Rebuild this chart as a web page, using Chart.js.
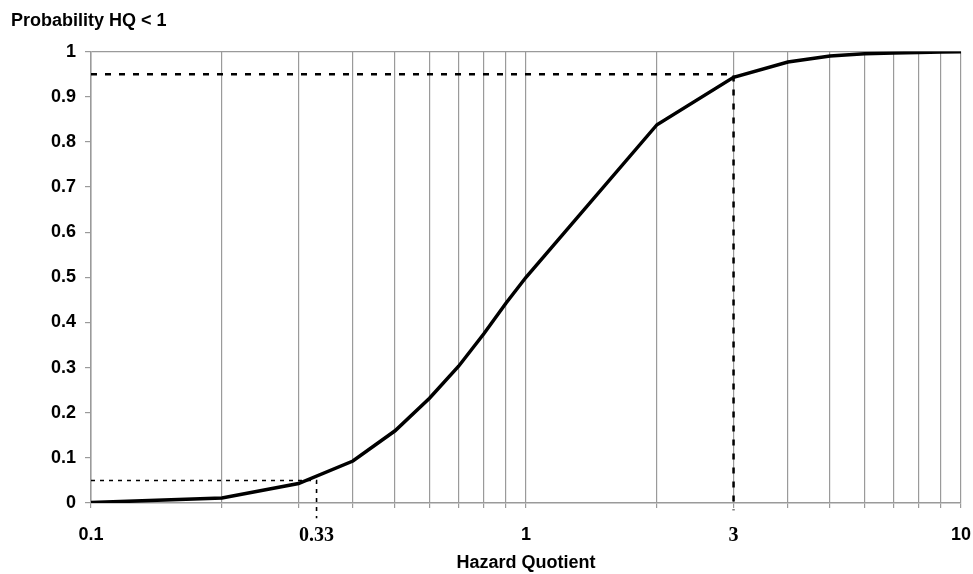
<!DOCTYPE html>
<html>
<head>
<meta charset="utf-8">
<script src="https://cdn.jsdelivr.net/npm/chart.js@4.4.1/dist/chart.umd.min.js"></script>
<style>
    body { margin: 0; background: #fff; }
    #wrap { width: 973px; height: 574px; }
</style>
</head>
<body>
<div id="wrap"><canvas id="cdf"></canvas></div>
<script>
// hazard quotient values and probability
const hq = [0.1, 0.2, 0.3, 0.4, 0.5, 0.6, 0.7, 0.8, 0.9, 1, 2, 3, 4, 5, 6, 7, 8, 9, 10];
const prob = [0.001, 0.011, 0.043, 0.093, 0.16, 0.232, 0.303, 0.375, 0.443, 0.5, 0.838, 0.943, 0.977, 0.99, 0.995, 0.997, 0.998, 0.999, 0.9995];

// dashed guide lines (95% and 5%)
const guide95X = [0.1, 3, 3];
const guide95Y = [0.95, 0.95, -0.016];
const guide05X = [0.1, 0.33, 0.33];
const guide05Y = [0.05, 0.05, -0.034];

// axes
const xGridValues = [0.1, 0.2, 0.3, 0.4, 0.5, 0.6, 0.7, 0.8, 0.9, 1, 2, 3, 4, 5, 6, 7, 8, 9, 10];
const xTickValues = [0.1, 0.33, 1, 3, 10];
const xTickLabels = ['0.1', '0.33', '1', '3', '10'];
const serifTicks = ['0.33', '3'];
const yTickLabels = ['0', '0.1', '0.2', '0.3', '0.4', '0.5', '0.6', '0.7', '0.8', '0.9', '1'];

const toPoints = (xs, ys) => xs.map((x, i) => ({ x: x, y: ys[i] }));
const gridGray = '#9a9a9a';
const sansBold = { family: 'Liberation Sans, Arial, sans-serif', size: 18, weight: 'bold' };

function xLabel(value) {
    let i = xTickValues.findIndex(v => Math.abs(v - value) < 1e-9);
    return i < 0 ? '' : xTickLabels[i];
}

new Chart(document.getElementById('cdf'), {
    type: 'line',
    data: {
        datasets: [{
            data: toPoints(hq, prob),
            borderColor: '#000',
            borderWidth: 3.5,
            pointRadius: 0,
            tension: 0
        }, {
            data: toPoints(guide95X, guide95Y),
            borderColor: '#000',
            borderWidth: 2.5,
            borderDash: [6, 8],
            pointRadius: 0,
            clip: false
        }, {
            data: toPoints(guide05X, guide05Y),
            borderColor: '#000',
            borderWidth: 1.6,
            borderDash: [4, 5],
            pointRadius: 0,
            clip: false
        }]
    },
    options: {
        responsive: true,
        maintainAspectRatio: false,
        animation: false,
        layout: { padding: { left: 11, right: 12, top: 0, bottom: 0 } },
        plugins: {
            legend: { display: false },
            tooltip: { enabled: false },
            title: {
                display: true,
                text: 'Probability HQ < 1',
                align: 'start',
                color: '#000',
                font: sansBold,
                padding: { top: 10, bottom: 20 }
            }
        },
        scales: {
            x: {
                type: 'logarithmic',
                min: 0.1,
                max: 10,
                afterBuildTicks: (scale) => {
                    let vals = xGridValues.slice();
                    xTickValues.forEach(v => { if (!vals.includes(v)) vals.push(v); });
                    vals.sort((a, b) => a - b);
                    scale.ticks = vals.map(v => ({ value: v }));
                },
                afterFit: (scale) => {
                    scale.height = 71;
                    scale.paddingLeft = 0;
                    scale.paddingRight = 0;
                },
                border: { color: gridGray, width: 1.5 },
                grid: {
                    color: (ctx) => (ctx.tick && xGridValues.includes(ctx.tick.value)) ? gridGray : 'rgba(0,0,0,0)',
                    tickColor: (ctx) => (ctx.tick && xGridValues.includes(ctx.tick.value)) ? gridGray : 'rgba(0,0,0,0)',
                    lineWidth: 1.2,
                    tickLength: 5
                },
                ticks: {
                    autoSkip: false,
                    maxRotation: 0,
                    padding: 16,
                    color: '#000',
                    callback: (value) => xLabel(value),
                    font: (ctx) => {
                        let lbl = ctx.tick ? xLabel(ctx.tick.value) : '';
                        if (serifTicks.includes(lbl)) {
                            return { family: 'Liberation Serif, Times New Roman, serif', size: 20, weight: 'bold' };
                        }
                        return sansBold;
                    }
                },
                title: {
                    display: true,
                    text: 'Hazard Quotient',
                    color: '#000',
                    font: sansBold,
                    padding: { top: 0, bottom: 0 }
                }
            },
            y: {
                min: 0,
                max: 1,
                afterFit: (scale) => { scale.width = 80; },
                border: { color: gridGray, width: 1.5 },
                grid: {
                    color: (ctx) => (ctx.tick && ctx.tick.value === 1) ? gridGray : 'rgba(0,0,0,0)',
                    tickColor: gridGray,
                    lineWidth: 1.2,
                    tickLength: 6
                },
                ticks: {
                    stepSize: 0.1,
                    padding: 9,
                    color: '#000',
                    font: sansBold,
                    callback: (value, index) => yTickLabels[index]
                }
            }
        }
    }
});
</script>
</body>
</html>
